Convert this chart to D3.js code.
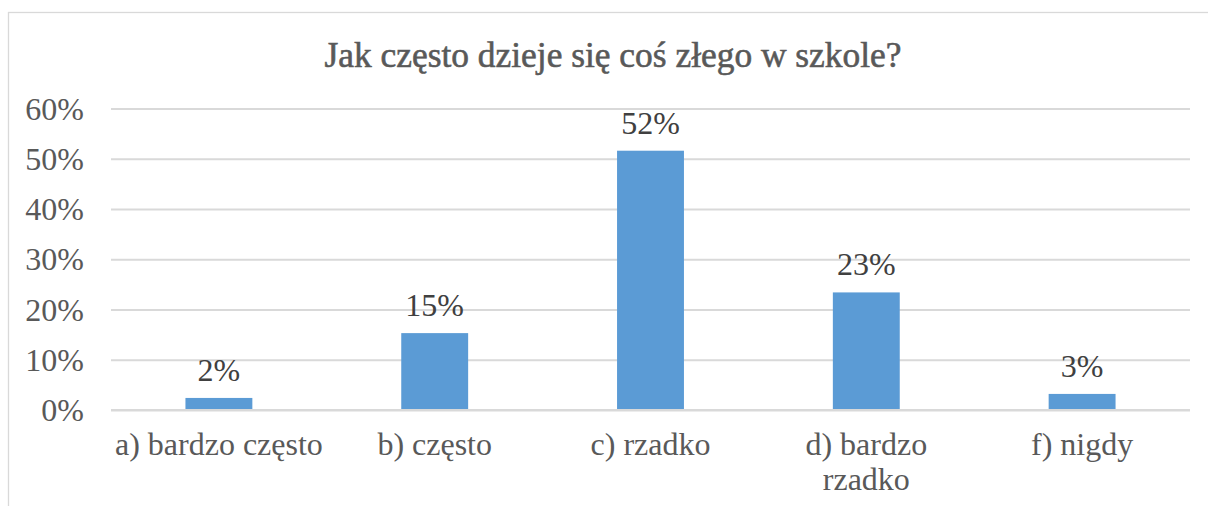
<!DOCTYPE html>
<html>
<head>
<meta charset="utf-8">
<script src="https://cdn.jsdelivr.net/npm/d3@7"></script>
<style>
  html, body { margin: 0; padding: 0; background: #ffffff; }
  svg { display: block; }
</style>
</head>
<body>
<svg id="chart" width="1208" height="506"></svg>
<script>
const title = "Jak często dzieje się coś złego w szkole?";
const categories = ["a) bardzo często", "b) często", "c) rzadko", "d) bardzo rzadko", "f) nigdy"];
const categoryLines = [["a) bardzo często"], ["b) często"], ["c) rzadko"], ["d) bardzo", "rzadko"], ["f) nigdy"]];
const values = [0.024, 0.153, 0.516, 0.234, 0.032];
const yTicks = [0, 0.1, 0.2, 0.3, 0.4, 0.5, 0.6];

const svg = d3.select("#chart");
const font = "'Liberation Serif', 'Times New Roman', serif";

// chart area border (only left and top visible)
svg.append("rect")
  .attr("x", 8.5).attr("y", 12.5)
  .attr("width", 1400).attr("height", 700)
  .attr("fill", "#ffffff")
  .attr("stroke", "#d9d9d9").attr("stroke-width", 1.3);

const plot = { left: 111, right: 1190, top: 108.5, bottom: 410 };

const x = d3.scaleBand()
  .domain(categories)
  .range([plot.left, plot.right])
  .paddingInner(0.69)
  .paddingOuter(0.345);

const y = d3.scaleLinear()
  .domain([0, 0.6])
  .range([plot.bottom, plot.top]);

// gridlines + tick labels
const yAxis = d3.axisLeft(y)
  .tickValues(yTicks)
  .tickSize(-(plot.right - plot.left))
  .tickPadding(27)
  .tickFormat(d3.format(".0%"));

const gy = svg.append("g")
  .attr("transform", `translate(${plot.left},0)`)
  .call(yAxis);
gy.select(".domain").remove();
gy.selectAll(".tick line")
  .attr("stroke", "#d9d9d9")
  .attr("stroke-width", 2);
gy.selectAll(".tick text")
  .attr("fill", "#595959")
  .attr("font-family", font)
  .attr("font-size", 32)
  .attr("dy", "0.33em");

// bars
svg.append("g").selectAll("rect")
  .data(values)
  .join("rect")
  .attr("x", (d, i) => x(categories[i]))
  .attr("width", x.bandwidth())
  .attr("y", d => y(d))
  .attr("height", d => y(0) - y(d))
  .attr("fill", "#5b9bd5");

// baseline redraw over bars
svg.append("line")
  .attr("x1", plot.left).attr("x2", plot.right)
  .attr("y1", y(0)).attr("y2", y(0))
  .attr("stroke", "#d9d9d9").attr("stroke-width", 2);

// data labels
svg.append("g").selectAll("text")
  .data(values)
  .join("text")
  .attr("x", (d, i) => x(categories[i]) + x.bandwidth() / 2)
  .attr("y", d => y(d) - 17)
  .attr("text-anchor", "middle")
  .attr("font-family", font)
  .attr("font-size", 32)
  .attr("fill", "#404040")
  .text(d => d3.format(".0%")(d));

// category labels
const gx = svg.append("g");
categoryLines.forEach((lines, i) => {
  const cx = x(categories[i]) + x.bandwidth() / 2;
  const t = gx.append("text")
    .attr("x", cx)
    .attr("y", 455)
    .attr("text-anchor", "middle")
    .attr("font-family", font)
    .attr("font-size", 32)
    .attr("fill", "#595959");
  lines.forEach((ln, j) => {
    t.append("tspan")
      .attr("x", cx)
      .attr("dy", j === 0 ? 0 : 35)
      .text(ln);
  });
});

// title
svg.append("text")
  .attr("x", 613)
  .attr("y", 67)
  .attr("text-anchor", "middle")
  .attr("font-family", font)
  .attr("font-size", 36)
  .attr("fill", "#595959")
  .attr("stroke", "#595959")
  .attr("stroke-width", 0.6)
  .attr("textLength", 577)
  .attr("lengthAdjust", "spacingAndGlyphs")
  .text(title);
</script>
</body>
</html>
